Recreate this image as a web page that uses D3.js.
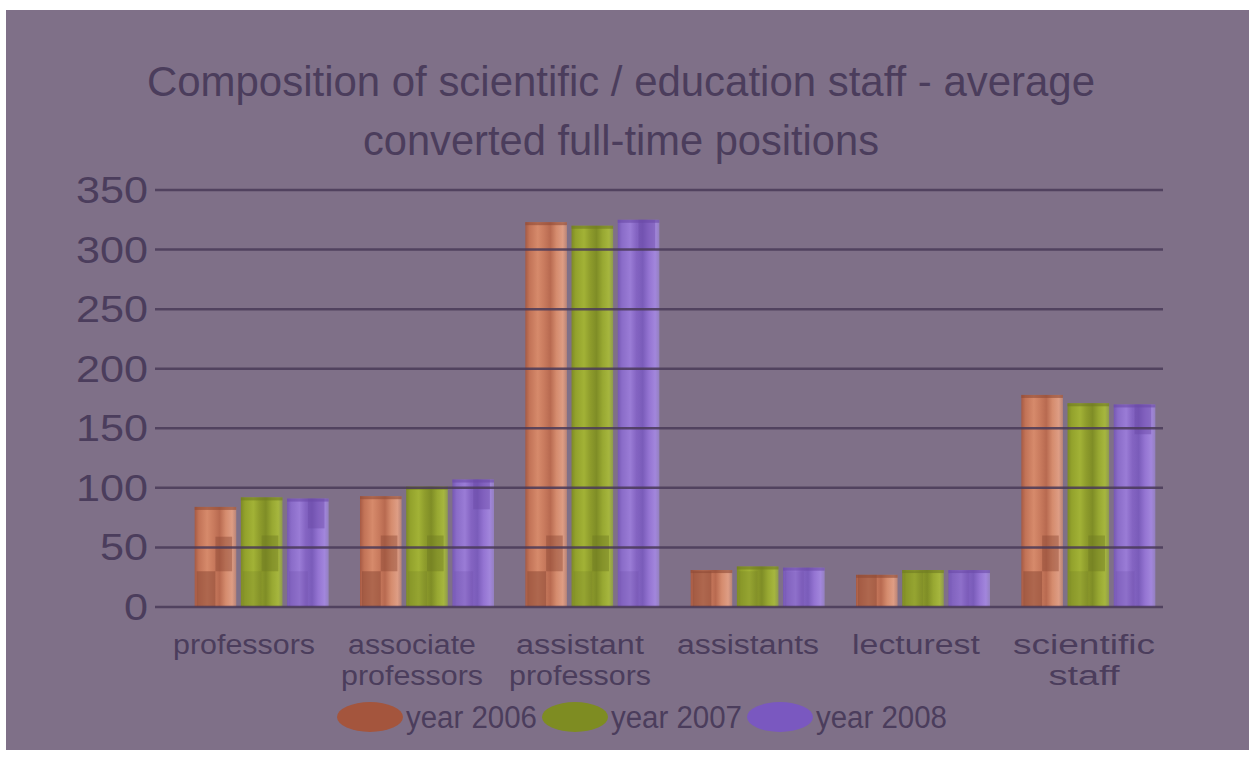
<!DOCTYPE html>
<html><head><meta charset="utf-8">
<script src="https://cdn.jsdelivr.net/npm/d3@7"></script>
<style>html,body{margin:0;padding:0;background:#fff;}svg{display:block;}</style>
</head><body>
<svg id="c" width="1255" height="758"></svg>
<script>
const categories = [["professors"],["associate","professors"],["assistant","professors"],["assistants"],["lecturest"],["scientific","staff"]];
const series = ["year 2006","year 2007","year 2008"];
const v2006 = [84, 93, 323, 31, 27, 178];
const v2007 = [92, 101, 320, 34, 31, 171];
const v2008 = [91, 107, 325, 33, 31, 170];
const yTicks = [0,50,100,150,200,250,300,350];
const titleLines = ["Composition of scientific / education staff - average","converted full-time positions"];

const values = [v2006, v2007, v2008];
const catNames = categories.map(c => c.join(" "));
const svg = d3.select("#c");
const txt = "#4b3d5c";
const font = "'Liberation Sans', Arial, sans-serif";

svg.append("rect").attr("x",6).attr("y",10).attr("width",1243).attr("height",740).attr("fill","#7f7088");

const defs = svg.append("defs");
const grads = [
  {id:"g0", stops:[[0,"#a65a44"],[0.1,"#c27357"],[0.3,"#d68a6b"],[0.45,"#c97b5e"],[0.6,"#b86a50"],[0.75,"#d58c6e"],[0.9,"#de9d84"],[1,"#b98477"]]},
  {id:"g1", stops:[[0,"#7e8a26"],[0.1,"#93a22c"],[0.3,"#a2b236"],[0.45,"#8e9c2c"],[0.6,"#7f8d26"],[0.75,"#98a832"],[0.9,"#a6b63e"],[1,"#8e9a4e"]]},
  {id:"g2", stops:[[0,"#7658b4"],[0.1,"#8a6cc8"],[0.3,"#9a7cd6"],[0.45,"#8464c2"],[0.6,"#7a5cba"],[0.75,"#9474d2"],[0.9,"#a286dc"],[1,"#9480c0"]]}
];
grads.forEach(g => {
  const lg = defs.append("linearGradient").attr("id",g.id).attr("x1","0").attr("x2","1").attr("y1","0").attr("y2","0");
  g.stops.forEach(s => lg.append("stop").attr("offset",s[0]).attr("stop-color",s[1]));
});
const darkCol = ["#8e4a36","#6e7a22","#6a4aa6"];
const legendCol = ["#a4553d","#7e8c22","#7a58c0"];

const y = d3.scaleLinear().domain([0,350]).range([607,190]);
const xLab = d3.scaleBand().domain(catNames).range([160,1168]);
const xBar = d3.scaleBand().domain(catNames).range([179,1171]);
const xs = d3.scaleBand().domain(series).range([0,134]).paddingInner(0.1);

// title
titleLines.forEach((t,i) => {
  svg.append("text").attr("x",621).attr("y",[96,155][i]).attr("text-anchor","middle")
    .attr("font-family",font).attr("font-size",42).attr("fill",txt)
    .attr("textLength",[948,516][i]).attr("lengthAdjust","spacingAndGlyphs").text(t);
});

// y tick labels
svg.append("g").selectAll("text").data(yTicks).join("text")
  .attr("x",148).attr("y",d=>y(d)+13).attr("text-anchor","end")
  .attr("font-family",font).attr("font-size",37).attr("fill",txt)
  .attr("textLength",d=>String(d).length*24).attr("lengthAdjust","spacingAndGlyphs")
  .text(d=>d);

// bars
const gBars = svg.append("g");
series.forEach((s,si) => {
  const g = gBars.append("g");
  catNames.forEach((c,ci) => {
    const v = values[si][ci];
    const x0 = xBar(c) + (xBar.bandwidth()-134)/2 + xs(s);
    const w = xs.bandwidth();
    g.append("rect").attr("x",x0).attr("y",y(v)).attr("width",w).attr("height",y(0)-y(v))
      .attr("fill",`url(#g${si})`);
    const lv = Math.min(v, 30);
    g.append("rect").attr("x",x0+2).attr("y",y(lv)).attr("width",w*0.45).attr("height",y(0)-y(lv))
      .attr("fill",darkCol[si]).attr("opacity",si===0?0.55:0.25);
    g.append("rect").attr("x",x0).attr("y",y(v)).attr("width",w).attr("height",3)
      .attr("fill",darkCol[si]).attr("opacity",0.6);
    if (v > 60) {
      const top = si===2 ? v : Math.min(v-25, 60);
      const bot = si===2 ? Math.max(v-25, 0) : 30;
      g.append("rect").attr("x",x0+w*0.5).attr("y",y(top)).attr("width",w*0.4).attr("height",y(bot)-y(top))
        .attr("fill",darkCol[si]).attr("opacity",0.45);
    }
  });
});

// gridlines
svg.append("g").selectAll("line").data(yTicks).join("line")
  .attr("x1",155).attr("x2",1163).attr("y1",d=>y(d)).attr("y2",d=>y(d))
  .attr("stroke","#4a3a58").attr("stroke-width",2.5).attr("opacity",0.85);

// category labels
const gl = svg.append("g");
categories.forEach((lines,ci) => {
  lines.forEach((t,li) => {
    gl.append("text").attr("x",xLab(catNames[ci])+xLab.bandwidth()/2).attr("y",654+li*31)
      .attr("text-anchor","middle").attr("font-family",font).attr("font-size",27).attr("fill",txt)
      .attr("textLength",t.length*14.2).attr("lengthAdjust","spacingAndGlyphs").text(t);
  });
});

// legend
const legX = [370, 575, 780];
series.forEach((s,si) => {
  svg.append("ellipse").attr("cx",legX[si]).attr("cy",717).attr("rx",33).attr("ry",15).attr("fill",legendCol[si]);
  svg.append("text").attr("x",legX[si]+36).attr("y",728).attr("font-family",font).attr("font-size",31)
    .attr("fill",txt).attr("textLength",131).attr("lengthAdjust","spacingAndGlyphs").text(s);
});
</script>
</body></html>
